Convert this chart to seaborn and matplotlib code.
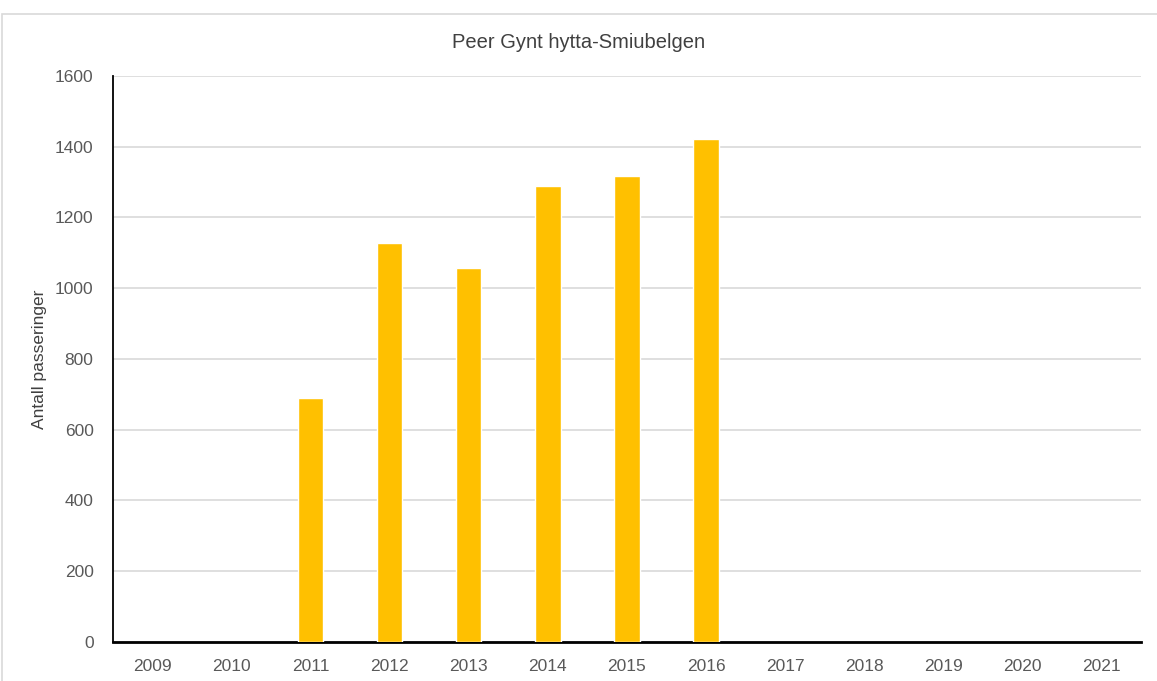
"""
Peer Gynt hytta-Smiubelgen - antall passeringer per år
"""

import numpy as np
import pandas as pd
import matplotlib.pyplot as plt
import matplotlib.patches as mpatches
import seaborn as sns

years = ["2009", "2010", "2011", "2012", "2013", "2014", "2015",
         "2016", "2017", "2018", "2019", "2020", "2021"]
passeringer = [np.nan, np.nan, 690, 1128, 1058, 1290, 1317,
               1421, np.nan, np.nan, np.nan, np.nan, np.nan]
y_ticks = [0, 200, 400, 600, 800, 1000, 1200, 1400, 1600]


def main():
    df = pd.DataFrame({"År": years, "Antall": passeringer})

    sns.set_style("white")
    plt.rcParams["font.family"] = ["Liberation Sans", "DejaVu Sans"]

    fig = plt.figure(figsize=(11.57, 6.81), dpi=100)
    ax = fig.add_axes([0.0977, 0.0573, 0.8884, 0.8311])

    # thin frame round the chart area, like the Excel export
    fig.patches.append(mpatches.Rectangle(
        (0.002, -0.01), 1.2, 0.99, transform=fig.transFigure,
        fill=False, edgecolor="#d9d9d9", linewidth=1.2))

    sns.barplot(data=df, x="År", y="Antall", color="#ffc000",
                width=0.32, saturation=1, ax=ax, zorder=3)

    ax.set_ylim(0, 1600)
    ax.set_yticks(y_ticks)
    ax.set_xlim(-0.5, len(years) - 0.5)
    ax.yaxis.grid(True, color="#d9d9d9", linewidth=1.2, zorder=0)
    ax.set_axisbelow(True)

    for side in ["top", "right"]:
        ax.spines[side].set_visible(False)
    ax.spines["left"].set_color("black")
    ax.spines["left"].set_linewidth(1.3)
    ax.spines["bottom"].set_color("black")
    ax.spines["bottom"].set_linewidth(2)

    ax.tick_params(axis="both", length=0, labelsize=12.5, colors="#595959")
    ax.tick_params(axis="x", pad=12)
    ax.tick_params(axis="y", pad=14)

    ax.set_xlabel("")
    ax.set_ylabel("Antall passeringer", fontsize=12.5, color="#404040", labelpad=6)
    fig.text(0.5, 0.938, "Peer Gynt hytta-Smiubelgen", ha="center", va="center",
             fontsize=14.5, color="#404040")

    fig.savefig("out.png", dpi=100)
    plt.close(fig)


if __name__ == "__main__":
    main()
